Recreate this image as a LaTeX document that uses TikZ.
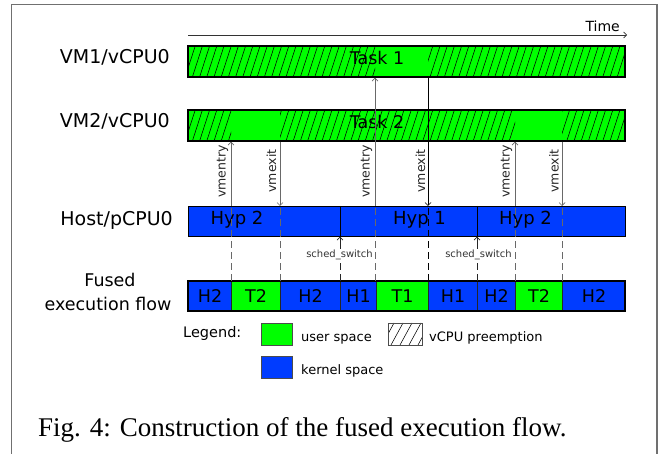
\documentclass[tikz,border=0pt]{standalone}
\usepackage{fontspec}
\setmainfont{DejaVu Sans}
\newfontfamily\capfont{Liberation Serif}
\usetikzlibrary{arrows.meta}
\definecolor{ugreen}{RGB}{0,255,0}
\definecolor{kblue}{RGB}{0,60,255}
\definecolor{framegray}{RGB}{112,112,112}
\definecolor{lgray}{RGB}{105,105,105}
\begin{document}
\begin{tikzpicture}[x=1pt,y=-1pt,
  bar/.style={draw=black, line width=1.3pt, inner sep=0pt, anchor=north west, minimum height=31pt, minimum width=437pt},
  seg/.style={draw=black!85, line width=1pt, inner sep=0pt, anchor=north west, minimum height=30pt, font=\fontsize{17.5}{20}\selectfont},
  rowlabel/.style={inner sep=0pt, anchor=base east, font=\fontsize{19}{23}\selectfont},
  barlabel/.style={inner sep=0pt, anchor=base, font=\fontsize{17.5}{21}\selectfont},
  hatchline/.style={black, line width=0.55pt},
  vlabel/.style={inner sep=0pt, rotate=90, font=\fontsize{12.5}{15}\selectfont, text=black!85},
  schedlabel/.style={inner sep=0pt, anchor=base, font=\fontsize{10}{12}\selectfont, text=black!80},
  arr/.style={-{Straight Barb[length=3pt,width=6pt,line width=0.7pt]}, line width=0.9pt},
  dashline/.style={line width=0.9pt, dash pattern=on 7pt off 4pt},
  legtext/.style={inner sep=0pt, anchor=base west, font=\fontsize{13}{16}\selectfont}
]
\useasboundingbox (0,0) rectangle (665,454);
% frame
\draw[framegray, line width=1.5pt] (11.7,470) -- (11.7,4.7) -- (657,4.7) -- (657,470);

% time arrow
\coordinate (t0) at (188,35);
\coordinate (t1) at (627,35);
\draw[black!80, line width=0.9pt, -{Straight Barb[length=3pt,width=6pt,line width=0.7pt]}] (t0) -- (t1);
\node[inner sep=0pt, anchor=base east, font=\fontsize{14}{16}\selectfont] (time) at (620,32) {Time};

% row labels
\node[rowlabel] (l1) at (170,64) {VM1/vCPU0};
\node[rowlabel] (l2) at (170,128) {VM2/vCPU0};
\node[rowlabel] (l3) at (173,226) {Host/pCPU0};
\node[inner sep=0pt, anchor=base, font=\fontsize{17.5}{21}\selectfont] (l4a) at (110,287) {Fused};
\node[inner sep=0pt, anchor=base, font=\fontsize{17.5}{21}\selectfont] (l4b) at (108,310.5) {execution flow};

% VM bars
\node[bar, fill=ugreen] (vm1) at (188,46) {};
\node[bar, fill=ugreen] (vm2) at (188,110) {};
\begin{scope}
  \clip (188,46) rectangle (375,77) (428,46) rectangle (625,77);
  \foreach \i in {0,...,65} {\draw[hatchline] (178+7.2*\i,77) -- ++(10,-31);}
\end{scope}
\begin{scope}
  \clip (188,110) rectangle (231,141) (280,110) rectangle (515,141) (562,110) rectangle (625,141);
  \foreach \i in {0,...,65} {\draw[hatchline] (178+7.2*\i,141) -- ++(10,-31);}
\end{scope}
\draw[black, line width=1.3pt] (188,46) rectangle (625,77);
\draw[black, line width=1.3pt] (188,110) rectangle (625,141);
\node[barlabel] (task1) at (377,65) {Task 1};
\node[barlabel] (task2) at (377,128.5) {Task 2};

% Host bar
\node[bar, fill=kblue, minimum height=30pt] (hyp) at (188,206) {};
\draw[black, line width=1pt] (340,206) -- (340,236);
\draw[black, line width=1pt] (477,206) -- (477,236);
\node[barlabel, font=\fontsize{18}{21}\selectfont] (hyp2a) at (237,224.5) {Hyp 2};
\node[barlabel, font=\fontsize{18}{21}\selectfont] (hyp1) at (419.5,224.5) {Hyp 1};
\node[barlabel, font=\fontsize{18}{21}\selectfont] (hyp2b) at (525.5,224.5) {Hyp 2};

% Fused bar
\node[seg, fill=kblue, minimum width=43pt] (f1) at (188,281) {H2};
\node[seg, fill=ugreen, minimum width=49pt] (f2) at (231,281) {T2};
\node[seg, fill=kblue, minimum width=60pt] (f3) at (280,281) {H2};
\node[seg, fill=kblue, minimum width=36pt] (f4) at (340,281) {H1};
\node[seg, fill=ugreen, minimum width=52pt] (f5) at (376,281) {T1};
\node[seg, fill=kblue, minimum width=49pt] (f6) at (428,281) {H1};
\node[seg, fill=kblue, minimum width=38pt] (f7) at (477,281) {H2};
\node[seg, fill=ugreen, minimum width=47pt] (f8) at (515,281) {T2};
\node[seg, fill=kblue, minimum width=63pt] (f9) at (562,281) {H2};
\draw[black, line width=1.3pt] (188,281) rectangle (625,311);

% dashed guide lines (fused top -> host top)
\foreach \x/\c in {231/lgray, 280/lgray, 375/lgray, 515/lgray, 562/lgray} {
  \coordinate (df\x) at (\x,281);
  \coordinate (dh\x) at (\x,206);
  \draw[dashline, \c] (df\x) -- (dh\x);
}
\coordinate (df428) at (428,281);
\coordinate (dh428) at (428,206);
\draw[dashline, black] (df428) -- (dh428);

% vmentry / vmexit arrows
\coordinate (v2a) at (231,141.6);
\coordinate (v2b) at (280,141.6);
\coordinate (v1a) at (375,77.6);
\coordinate (v1b) at (428,77.6);
\coordinate (v2c) at (515,141.6);
\coordinate (v2d) at (562,141.6);
\draw[arr, lgray] (dh231) -- (v2a);
\draw[arr, lgray] (v2b) -- (dh280);
\draw[arr, lgray] (dh375) -- (v1a);
\draw[arr, black] (v1b) -- (dh428);
\draw[arr, lgray] (dh515) -- (v2c);
\draw[arr, lgray] (v2d) -- (dh562);

\node[vlabel] (en1) at (222.5,171.5) {vmentry};
\node[vlabel] (ex1) at (271.5,171) {vmexit};
\node[vlabel] (en2) at (366.5,171.5) {vmentry};
\node[vlabel] (ex2) at (420.5,171) {vmexit};
\node[vlabel] (en3) at (506.5,171.5) {vmentry};
\node[vlabel] (ex3) at (554,171) {vmexit};

% sched_switch
\node[schedlabel] (s1) at (339.5,258) {sched\_switch};
\node[schedlabel] (s2) at (478.5,258) {sched\_switch};
\coordinate (s1t) at (340,249);
\coordinate (s1h) at (340,236.6);
\coordinate (s1b) at (340,261);
\coordinate (s1f) at (340,281);
\coordinate (s2t) at (477,249);
\coordinate (s2h) at (477,236.6);
\coordinate (s2b) at (477,261);
\coordinate (s2f) at (477,281);
\draw[arr, black!85] (s1t) -- (s1h);
\draw[arr, black!85] (s2t) -- (s2h);
\draw[dashline, black!85] (s1f) -- (s1b);
\draw[dashline, black!85] (s2f) -- (s2b);

% legend
\node[inner sep=0pt, anchor=base west, font=\fontsize{14.5}{17}\selectfont] (leg) at (183,338) {Legend:};
\node[draw=black!70, line width=0.8pt, fill=ugreen, inner sep=0pt, anchor=north west, minimum width=31pt, minimum height=22pt] (lu) at (261,323) {};
\node[legtext] (lut) at (301,341.5) {user space};
\node[draw=black!70, line width=0.8pt, fill=kblue, inner sep=0pt, anchor=north west, minimum width=31pt, minimum height=22pt] (lk) at (261,356) {};
\node[legtext] (lkt) at (301,374.3) {kernel space};
\node[draw=black!70, line width=0.8pt, fill=white, inner sep=0pt, anchor=north west, minimum width=34pt, minimum height=22pt] (lp) at (388,323) {};
\begin{scope}
  \clip (388,323) rectangle (422,345);
  \foreach \i in {0,...,5} {\draw[hatchline] (382+9*\i,345) -- ++(12,-22);}
\end{scope}
\draw[black!70, line width=0.8pt] (388,323) rectangle (422,345);
\node[legtext] (lpt) at (429,341.7) {vCPU preemption};

% caption
\node[inner sep=0pt, anchor=base west, font=\capfont\fontsize{27}{30}\selectfont] (cap) at (38,437) {Fig. 4: Construction of the fused execution flow.};
\end{tikzpicture}
\end{document}
